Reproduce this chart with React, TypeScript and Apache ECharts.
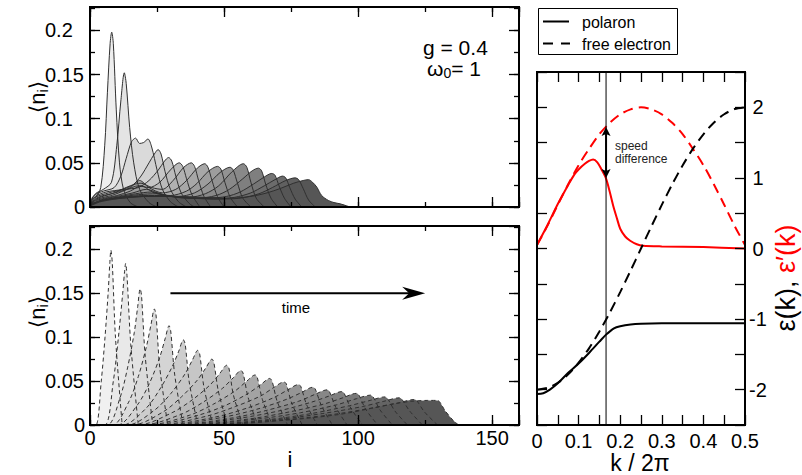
import React, { useEffect, useRef } from 'react';
import * as echarts from 'echarts';

const FONT = '"Liberation Sans", Arial, "DejaVu Sans", sans-serif';

// ---------- top-left panel: polaron, snapshots of <n_i> vs site i ----------
const polaronSnap01 = [[0,0.004],[2,0.01],[4,0.022],[5.5,0.07],[6.5,0.13],[7.5,0.185],[8.1,0.198],[8.7,0.185],[9.8,0.11],[11,0.05],[12.5,0.02],[15,0.005],[18,0]];
const polaronSnap02 = [[0,0.006],[2,0.015],[5,0.02],[8,0.028],[10,0.07],[11.5,0.12],[12.8,0.152],[13.5,0.14],[14.8,0.09],[16.3,0.05],[18.5,0.02],[22,0.005],[25,0]];
const polaronSnap03 = [[0,0.005],[2,0.014],[5,0.018],[9,0.022],[11.5,0.035],[13.5,0.055],[15.5,0.074],[17,0.078],[18.5,0.072],[20,0.073],[21.6,0.077],[23,0.068],[25,0.042],[27,0.02],[30,0.006],[33,0]];
const polaronSnap04 = [[0,0.004],[2,0.012],[6,0.017],[12,0.02],[16,0.025],[19,0.035],[22,0.05],[24,0.06],[25.4,0.065],[26.5,0.06],[28,0.04],[30,0.02],[33,0.006],[36,0]];
const polaronSnap05 = [[0,0.004],[2,0.011],[7,0.016],[13,0.02],[18,0.022],[22,0.03],[25.5,0.042],[27.8,0.052],[29.3,0.056],[30.5,0.052],[32,0.035],[34,0.016],[37,0.004],[39,0]];
const polaronSnap06 = [[0,0.003],[3,0.011],[8,0.015],[14,0.02],[18,0.024],[22,0.022],[26,0.028],[30,0.042],[33.3,0.05],[34.6,0.046],[36,0.032],[38,0.014],[41,0]];
const polaronSnap07 = [[0,0.003],[3,0.01],[9,0.016],[15,0.024],[19,0.027],[23,0.022],[27,0.02],[31,0.03],[35,0.045],[37.8,0.05],[39,0.046],[40.5,0.03],[42.5,0.012],[45,0]];
const polaronSnap08 = [[0,0.003],[3,0.009],[9,0.014],[15,0.022],[18.5,0.03],[22,0.022],[27,0.016],[32,0.02],[36,0.03],[40,0.044],[42.8,0.049],[44,0.045],[45.5,0.03],[47.5,0.012],[50,0]];
const polaronSnap09 = [[0,0.002],[3,0.008],[10,0.013],[15,0.018],[19,0.024],[24,0.016],[30,0.013],[36,0.018],[40,0.027],[44,0.04],[47.6,0.046],[48.8,0.043],[50.3,0.028],[52.3,0.011],[55,0]];
const polaronSnap10 = [[0,0.002],[4,0.008],[10,0.012],[16,0.016],[21,0.02],[27,0.014],[33,0.012],[39,0.016],[44,0.026],[48.5,0.039],[52.2,0.045],[53.4,0.042],[55,0.027],[57,0.01],[60,0]];
const polaronSnap11 = [[0,0.002],[4,0.007],[10,0.011],[17,0.015],[23,0.017],[30,0.012],[37,0.011],[43,0.015],[48,0.024],[53,0.04],[57.2,0.049],[58.5,0.045],[60,0.028],[62,0.01],[65,0]];
const polaronSnap12 = [[0,0.002],[4,0.007],[11,0.011],[18,0.014],[25,0.015],[32,0.011],[40,0.01],[47,0.013],[52,0.02],[57,0.032],[60.5,0.041],[62.8,0.044],[64,0.041],[65.5,0.026],[67.5,0.01],[70,0]];
const polaronSnap13 = [[0,0.002],[4,0.007],[12,0.011],[20,0.013],[28,0.013],[36,0.01],[44,0.01],[51,0.012],[56,0.017],[61,0.026],[65,0.034],[67.8,0.038],[69,0.036],[70.5,0.024],[72.5,0.01],[75,0]];
const polaronSnap14 = [[0,0.002],[4,0.007],[12,0.011],[20,0.012],[29,0.012],[38,0.01],[46,0.009],[54,0.011],[60,0.016],[65,0.024],[69,0.031],[71.8,0.035],[73,0.033],[74.5,0.022],[76.5,0.009],[79,0]];
const polaronSnap15 = [[0,0.002],[4,0.007],[12,0.01],[21,0.012],[30,0.012],[40,0.01],[48,0.009],[56,0.01],[63,0.015],[68,0.022],[73,0.03],[76.5,0.033],[77.8,0.031],[79.5,0.021],[81.5,0.008],[84,0]];
const polaronSnap16 = [[0,0.001],[4,0.006],[12,0.01],[22,0.012],[32,0.012],[42,0.011],[52,0.01],[60,0.012],[66,0.016],[71,0.021],[76,0.027],[79.5,0.03],[81.5,0.031],[83,0.028],[84.6,0.0225],[86.4,0.013],[88.9,0.0074],[91,0.005],[93.3,0.0036],[97,0]];

const polaronSnapshots = [
  polaronSnap01, polaronSnap02, polaronSnap03, polaronSnap04, polaronSnap05, polaronSnap06,
  polaronSnap07, polaronSnap08, polaronSnap09, polaronSnap10, polaronSnap11, polaronSnap12,
  polaronSnap13, polaronSnap14, polaronSnap15, polaronSnap16,
];

// ---------- bottom-left panel: free electron snapshots ----------
const freeSnap01 = [[0,0],[2.2,0],[4.2,0.05],[5.6,0.1],[6.8,0.152],[7.4,0.185],[7.8,0.199],[8.3,0.185],[9.5,0.1],[12,0]];
const freeSnap02 = [[0,0],[5.5,0],[8.7,0.05],[10.6,0.1],[12.2,0.15],[12.9,0.175],[13.3,0.184],[13.8,0.17],[15.2,0.092],[18,0]];
const freeSnap03 = [[0,0],[6.5,0],[11.2,0.031],[14,0.065],[16.5,0.105],[17.8,0.135],[18.7,0.155],[19.2,0.148],[20.6,0.078],[23.4,0]];
const freeSnap04 = [[0,0],[8.4,0],[14.4,0.026],[18,0.055],[21.1,0.09],[22.8,0.115],[24,0.132],[24.6,0.126],[26,0.066],[29,0]];
const freeSnap05 = [[0,0],[10.3,0],[17.7,0.023],[22.1,0.047],[26,0.077],[28,0.098],[29.5,0.113],[30.1,0.107],[31.6,0.057],[34.7,0]];
const freeSnap06 = [[0,0],[12.2,0],[20.9,0.019],[26.1,0.041],[30.6,0.066],[33.1,0.084],[34.8,0.097],[35.5,0.092],[37,0.049],[40.2,0]];
const freeSnap07 = [[0,0],[14.1,0],[24.1,0.017],[30.2,0.036],[35.4,0.058],[38.2,0.074],[40.2,0.085],[40.9,0.081],[42.5,0.043],[45.8,0]];
const freeSnap08 = [[0,0],[15.9,0],[27.3,0.015],[34.1,0.032],[40,0.051],[43.2,0.065],[45.5,0.075],[46.2,0.071],[47.9,0.038],[51.3,0]];
const freeSnap09 = [[0,0],[17.9,0],[30.6,0.014],[38.3,0.029],[44.9,0.046],[48.5,0.059],[51,0.068],[51.8,0.065],[53.5,0.034],[57,0]];
const freeSnap10 = [[0,0],[19.7,0],[33.8,0.012],[42.2,0.026],[49.5,0.042],[53.5,0.054],[56.3,0.062],[57.1,0.059],[59,0.031],[62.6,0]];
const freeSnap11 = [[0,0],[21.6,0],[37,0.011],[46.2,0.024],[54.2,0.039],[58.5,0.05],[61.6,0.057],[62.4,0.054],[64.3,0.029],[68,0]];
const freeSnap12 = [[0,0],[23.5,0],[40.2,0.011],[50.3,0.022],[59,0.036],[63.7,0.046],[67,0.053],[67.9,0.05],[69.8,0.027],[73.7,0]];
const freeSnap13 = [[0,0],[25.3,0],[43.4,0.01],[54.2,0.021],[63.6,0.033],[68.7,0.043],[72.3,0.049],[73.2,0.047],[75.2,0.025],[79.2,0]];
const freeSnap14 = [[0,0],[27.2,0],[46.6,0.009],[58.3,0.019],[68.4,0.031],[73.8,0.04],[77.7,0.046],[78.6,0.044],[80.8,0.023],[84.8,0]];
const freeSnap15 = [[0,0],[29.1,0],[49.9,0.009],[62.3,0.018],[73.1,0.029],[78.9,0.037],[83.1,0.043],[84,0.041],[86.3,0.022],[90.4,0]];
const freeSnap16 = [[0,0],[30.9,0],[53,0.008],[66.3,0.017],[77.8,0.027],[84,0.035],[88.4,0.04],[89.3,0.038],[91.7,0.02],[95.9,0]];
const freeSnap17 = [[0,0],[32.9,0],[56.3,0.008],[70.4,0.016],[82.6,0.026],[89.2,0.033],[93.9,0.038],[94.8,0.036],[97.3,0.019],[101.7,0]];
const freeSnap18 = [[0,0],[34.8,0],[59.6,0.007],[74.5,0.015],[87.4,0.024],[94.3,0.031],[99.3,0.036],[100.3,0.034],[102.8,0.018],[107.3,0]];
const freeSnap19 = [[0,0],[36.6,0],[62.8,0.007],[78.5,0.014],[92,0.023],[99.4,0.03],[104.6,0.034],[105.6,0.032],[108.2,0.017],[112.8,0]];
const freeSnap20 = [[0,0],[38.5,0],[66,0.006],[82.5,0.013],[96.8,0.022],[104.5,0.028],[110,0.032],[111,0.03],[113.7,0.016],[118.4,0]];
const freeSnap21 = [[0,0],[40.4,0],[69.2,0.006],[86.6,0.013],[101.6,0.021],[109.6,0.027],[115.4,0.031],[116.4,0.029],[119.2,0.016],[124,0]];
const freeSnap22 = [[0,0],[42.3,0],[72.5,0.006],[90.6,0.012],[106.3,0.02],[114.8,0.025],[120.8,0.029],[121.8,0.028],[124.7,0.015],[129.6,0]];
const freeSnap23 = [[0,0],[44,0],[75,0.006],[93,0.012],[105,0.019],[113,0.024],[120,0.027],[126,0.028],[129.5,0.028],[132.5,0.016],[135.5,0.005],[137.5,0]];

const freeSnapshots = [
  freeSnap01, freeSnap02, freeSnap03, freeSnap04, freeSnap05, freeSnap06, freeSnap07, freeSnap08,
  freeSnap09, freeSnap10, freeSnap11, freeSnap12, freeSnap13, freeSnap14, freeSnap15, freeSnap16,
  freeSnap17, freeSnap18, freeSnap19, freeSnap20, freeSnap21, freeSnap22, freeSnap23,
];

// ---------- right panel: dispersion and group velocity ----------
const kValues = [0,0.025,0.05,0.075,0.1,0.125,0.15,0.175,0.2,0.225,0.25,0.275,0.3,0.325,0.35,0.375,0.4,0.425,0.45,0.475,0.5];
const freeElectronEnergy = [-2,-1.975,-1.902,-1.782,-1.618,-1.414,-1.176,-0.908,-0.618,-0.313,0,0.313,0.618,0.908,1.176,1.414,1.618,1.782,1.902,1.975,2];
const freeElectronVelocity = [0.05,0.32,0.62,0.91,1.18,1.41,1.62,1.78,1.9,1.97,2,1.97,1.9,1.78,1.62,1.41,1.18,0.91,0.62,0.32,0.05];
const polaronEnergy = [[0,-2.06],[0.015,-2.05],[0.031,-2.0],[0.05,-1.91],[0.075,-1.76],[0.1,-1.63],[0.125,-1.48],[0.15,-1.32],[0.166,-1.22],[0.185,-1.13],[0.2,-1.1],[0.225,-1.075],[0.25,-1.065],[0.3,-1.06],[0.4,-1.06],[0.5,-1.06]];
const polaronVelocity = [[0,0.05],[0.025,0.33],[0.05,0.63],[0.075,0.9],[0.09,1.05],[0.1,1.12],[0.115,1.2],[0.125,1.24],[0.135,1.26],[0.145,1.22],[0.155,1.12],[0.166,0.99],[0.175,0.8],[0.183,0.61],[0.192,0.43],[0.2,0.28],[0.212,0.17],[0.224,0.11],[0.24,0.06],[0.255,0.04],[0.3,0.03],[0.4,0.02],[0.5,0.0]];

// annotations (data units)
const cutK = 0.166;
const speedArrow = [1.72, 1.0];
const timeArrow = { from: 30, to: 125, level: 0.15 };

// styles
const topShades = ['#eeeeee','#e4e4e4','#dadada','#d0d0d0','#c6c6c6','#bbbbbb','#b1b1b1','#a7a7a7','#9d9d9d','#939393','#898989','#7f7f7f','#757575','#6b6b6b','#606060','#565656'];
const bottomShades = ['#f0f0f0','#e9e9e9','#e2e2e2','#dbdbdb','#d4d4d4','#cdcdcd','#c6c6c6','#bfbfbf','#b8b8b8','#b1b1b1','#aaaaaa','#a3a3a3','#9c9c9c','#959595','#8e8e8e','#878787','#808080','#797979','#727272','#6b6b6b','#646464','#5d5d5d','#565656'];

function valueAxis(o: any) {
  return {
    type: 'value', z: 10, gridIndex: o.grid, position: o.pos, min: o.min, max: o.max, interval: o.interval,
    axisLine: { show: !!o.line, onZero: false, lineStyle: { color: '#000', width: 2, cap: 'square' } },
    axisTick: { show: true, inside: true, length: o.tick, lineStyle: { color: '#000', width: 1.3 } },
    minorTick: { show: false }, splitLine: { show: false }, minorSplitLine: { show: false }, splitArea: { show: false },
    axisPointer: { show: false },
    axisLabel: o.label ? { show: true, color: '#000', fontFamily: FONT, fontSize: 20, hideOverlap: false, ...o.label } : { show: false },
  };
}

const leftYLabel = {
  margin: 45, align: 'left',
  formatter: (v: number) => {
    if (Math.abs(v) < 1e-9) return '{r|0}';
    if (Math.abs(v * 20 - Math.round(v * 20)) < 1e-6) return '{l|' + String(+v.toFixed(2)) + '}';
    return '';
  },
  rich: {
    l: { width: 40, align: 'left', fontSize: 20, fontFamily: FONT, color: '#000' },
    r: { width: 40, align: 'right', fontSize: 20, fontFamily: FONT, color: '#000' },
  },
};

function buildOption() {
  const iMax = 160, nMax = 0.2265;
  const xAxis = [
    valueAxis({ grid: 0, pos: 'bottom', min: 0, max: iMax, interval: 50, tick: 10, line: true }),
    valueAxis({ grid: 0, pos: 'bottom', min: 0, max: iMax, interval: 25, tick: 5 }),
    valueAxis({ grid: 0, pos: 'top', min: 0, max: iMax, interval: 50, tick: 10, line: true }),
    valueAxis({ grid: 0, pos: 'top', min: 0, max: iMax, interval: 25, tick: 5 }),
    valueAxis({ grid: 1, pos: 'bottom', min: 0, max: iMax, interval: 50, tick: 10, line: true,
      label: { margin: 3, formatter: (v: number) => (v % 50 === 0 ? String(v) : '') } }),
    valueAxis({ grid: 1, pos: 'bottom', min: 0, max: iMax, interval: 25, tick: 5 }),
    valueAxis({ grid: 1, pos: 'top', min: 0, max: iMax, interval: 50, tick: 10, line: true }),
    valueAxis({ grid: 1, pos: 'top', min: 0, max: iMax, interval: 25, tick: 5 }),
    valueAxis({ grid: 2, pos: 'bottom', min: 0, max: 0.5, interval: 0.05, tick: 10, line: true,
      label: { margin: 6, formatter: (v: number) => (Math.abs(v * 10 - Math.round(v * 10)) < 1e-9 ? String(+v.toFixed(1)) : '') } }),
    valueAxis({ grid: 2, pos: 'top', min: 0, max: 0.5, interval: 0.05, tick: 10, line: true }),
  ];
  const yAxis = [
    valueAxis({ grid: 0, pos: 'left', min: 0, max: nMax, interval: 0.05, tick: 10, line: true, label: leftYLabel }),
    valueAxis({ grid: 0, pos: 'left', min: 0, max: nMax, interval: 0.025, tick: 5 }),
    valueAxis({ grid: 0, pos: 'right', min: 0, max: nMax, interval: 0.05, tick: 10, line: true }),
    valueAxis({ grid: 0, pos: 'right', min: 0, max: nMax, interval: 0.025, tick: 5 }),
    valueAxis({ grid: 1, pos: 'left', min: 0, max: nMax, interval: 0.05, tick: 10, line: true, label: leftYLabel }),
    valueAxis({ grid: 1, pos: 'left', min: 0, max: nMax, interval: 0.025, tick: 5 }),
    valueAxis({ grid: 1, pos: 'right', min: 0, max: nMax, interval: 0.05, tick: 10, line: true }),
    valueAxis({ grid: 1, pos: 'right', min: 0, max: nMax, interval: 0.025, tick: 5 }),
    valueAxis({ grid: 2, pos: 'right', min: -2.5, max: 2.5, interval: 0.5, tick: 10, line: true,
      label: { margin: 13, align: 'center',
        formatter: (v: number) => (Math.abs(v - Math.round(v)) < 1e-9 ? String(Math.round(v)) : '') } }),
    valueAxis({ grid: 2, pos: 'left', min: -2.5, max: 2.5, interval: 0.5, tick: 10, line: true }),
  ];

  const series: any[] = [];
  polaronSnapshots.forEach((d, k) => series.push({
    type: 'line', xAxisIndex: 0, yAxisIndex: 0, data: d, smooth: 0.3, symbol: 'none', showSymbol: false,
    silent: true, lineStyle: { color: '#303030', width: 1 }, areaStyle: { color: topShades[k], opacity: 1 },
  }));
  freeSnapshots.forEach((d, k) => series.push({
    type: 'line', xAxisIndex: 4, yAxisIndex: 4, data: d, smooth: 0.3, symbol: 'none', showSymbol: false,
    silent: true, lineStyle: { color: '#303030', width: 1, type: [4, 3] }, areaStyle: { color: bottomShades[k], opacity: 1 },
  }));
  const kv = (vals: number[]) => kValues.map((k, j) => [k, vals[j]]);
  series.push(
    { type: 'line', xAxisIndex: 8, yAxisIndex: 8, data: kv(freeElectronVelocity), smooth: 0.3, symbol: 'none', silent: true,
      lineStyle: { color: '#ff0000', width: 2, type: [10, 6] } },
    { type: 'line', xAxisIndex: 8, yAxisIndex: 8, data: polaronVelocity, smooth: 0.3, symbol: 'none', silent: true,
      lineStyle: { color: '#ff0000', width: 2 } },
    { type: 'line', xAxisIndex: 8, yAxisIndex: 8, data: kv(freeElectronEnergy), smooth: 0.3, symbol: 'none', silent: true,
      lineStyle: { color: '#000', width: 2, type: [10, 6] } },
    { type: 'line', xAxisIndex: 8, yAxisIndex: 8, data: polaronEnergy, smooth: 0.3, symbol: 'none', silent: true,
      lineStyle: { color: '#000', width: 2 } },
  );

  return {
    animation: false,
    backgroundColor: '#ffffff',
    textStyle: { fontFamily: FONT },
    grid: [
      { left: 90, top: 7, width: 429, height: 200, containLabel: false, outerBoundsMode: 'none' },
      { left: 90, top: 226, width: 429, height: 199, containLabel: false, outerBoundsMode: 'none' },
      { left: 537, top: 72, width: 208, height: 353, containLabel: false, outerBoundsMode: 'none' },
    ],
    xAxis, yAxis, series,
    tooltip: { show: false },
  };
}

function buildGraphics(chart: any) {
  const botIdx = polaronSnapshots.length;
  const rightIdx = botIdx + freeSnapshots.length;
  const px = (si: number, v: number[]) => chart.convertToPixel({ seriesIndex: si }, v) as number[];
  const els: any[] = [];
  const txt = (x: number, y: number, text: string, size: number, extra: any = {}) => ({
    type: 'text', x, y, silent: true, z: 100,
    style: { text, fill: '#000', fontSize: size, fontFamily: FONT, align: 'left', verticalAlign: 'middle', ...extra },
  });

  // time arrow
  const a0 = px(botIdx, [timeArrow.from, timeArrow.level]);
  const a1 = px(botIdx, [timeArrow.to, timeArrow.level]);
  els.push({ type: 'line', silent: true, z: 100, shape: { x1: a0[0], y1: a0[1], x2: a1[0] - 14, y2: a1[1] }, style: { stroke: '#000', lineWidth: 2 } });
  els.push({ type: 'polygon', silent: true, z: 100, shape: { points: [[a1[0], a1[1]], [a1[0] - 23, a1[1] - 6.5], [a1[0] - 16, a1[1]], [a1[0] - 23, a1[1] + 6.5]] }, style: { fill: '#000' } });
  els.push(txt(296, 307, 'time', 15, { align: 'center' }));

  // parameters
  els.push(txt(423, 47, 'g = 0.4', 21));
  els.push({ type: 'text', x: 427, y: 68, silent: true, z: 100,
    style: { text: '{a|ω}{s|0}{a|= 1}', align: 'left', verticalAlign: 'middle',
      rich: { a: { fontSize: 21, fontFamily: FONT, fill: '#000', color: '#000', lineHeight: 24, verticalAlign: 'middle' },
              s: { fontSize: 14, fontFamily: FONT, fill: '#000', color: '#000', lineHeight: 14, verticalAlign: 'bottom' } } } });

  // vertical cut line and speed difference arrow
  const c0 = px(rightIdx, [cutK, -2.5]);
  const c1 = px(rightIdx, [cutK, 2.5]);
  els.push({ type: 'line', silent: true, z: 100, shape: { x1: c0[0], y1: c0[1], x2: c1[0], y2: c1[1] }, style: { stroke: '#000', lineWidth: 1 } });
  const s0 = px(rightIdx, [cutK, speedArrow[0]]);
  const s1 = px(rightIdx, [cutK, speedArrow[1]]);
  els.push({ type: 'line', silent: true, z: 100, shape: { x1: s0[0], y1: s0[1] + 6, x2: s1[0], y2: s1[1] - 6 }, style: { stroke: '#000', lineWidth: 2 } });
  els.push({ type: 'polygon', silent: true, z: 100, shape: { points: [[s0[0], s0[1]], [s0[0] - 4.5, s0[1] + 9], [s0[0], s0[1] + 7], [s0[0] + 4.5, s0[1] + 9]] }, style: { fill: '#000' } });
  els.push({ type: 'polygon', silent: true, z: 100, shape: { points: [[s1[0], s1[1]], [s1[0] - 4.5, s1[1] - 9], [s1[0], s1[1] - 7], [s1[0] + 4.5, s1[1] - 9]] }, style: { fill: '#000' } });
  els.push(txt(615, 146, 'speed', 12, { fill: '#222' }));
  els.push(txt(615, 159, 'difference', 12, { fill: '#222' }));

  // legend
  els.push({ type: 'rect', silent: true, z: 100, shape: { x: 538.5, y: 8.5, width: 139, height: 46 }, style: { fill: '#fff', stroke: '#000', lineWidth: 1 } });
  els.push({ type: 'line', silent: true, z: 101, shape: { x1: 543, y1: 21.5, x2: 569, y2: 21.5 }, style: { stroke: '#000', lineWidth: 2 } });
  els.push({ type: 'line', silent: true, z: 101, shape: { x1: 543, y1: 43.5, x2: 570, y2: 43.5 }, style: { stroke: '#000', lineWidth: 2, lineDash: [10, 8] } });
  els.push(txt(582, 22, 'polaron', 16));
  els.push(txt(582, 44, 'free electron', 16));

  // axis titles
  const nRich = {
    a: { fontSize: 22, fontFamily: FONT, fill: '#000', color: '#000', lineHeight: 26, verticalAlign: 'middle' },
    s: { fontSize: 14, fontFamily: FONT, fill: '#000', color: '#000', lineHeight: 14, verticalAlign: 'bottom' },
  };
  [97, 312].forEach((y) => els.push({ type: 'text', x: 37, y, rotation: Math.PI / 2, silent: true, z: 100,
    style: { text: '{a|⟨n}{s|i}{a|⟩}', align: 'center', verticalAlign: 'middle', rich: nRich } }));
  els.push(txt(290, 459, 'i', 22, { align: 'center' }));
  els.push(txt(640, 463, 'k / 2π', 23, { align: 'center' }));
  els.push({ type: 'text', x: 786, y: 278, rotation: Math.PI / 2, silent: true, z: 100,
    style: { text: '{b|ε(k), }{r|ε′(k)}', align: 'center', verticalAlign: 'middle',
      rich: { b: { fontSize: 27, fontFamily: FONT, fill: '#000', color: '#000' },
              r: { fontSize: 27, fontFamily: FONT, fill: '#ff0000', color: '#ff0000' } } } });
  return els;
}

export default function App() {
  const ref = useRef<HTMLDivElement>(null);
  useEffect(() => {
    document.body.style.margin = '0';
    document.documentElement.style.margin = '0';
    const chart = echarts.init(ref.current as HTMLDivElement, null, { renderer: 'svg' });
    chart.setOption(buildOption() as any);
    chart.setOption({ graphic: { elements: buildGraphics(chart) } } as any);
    return () => chart.dispose();
  }, []);
  return <div ref={ref} style={{ width: 802, height: 475, background: '#fff' }} />;
}
